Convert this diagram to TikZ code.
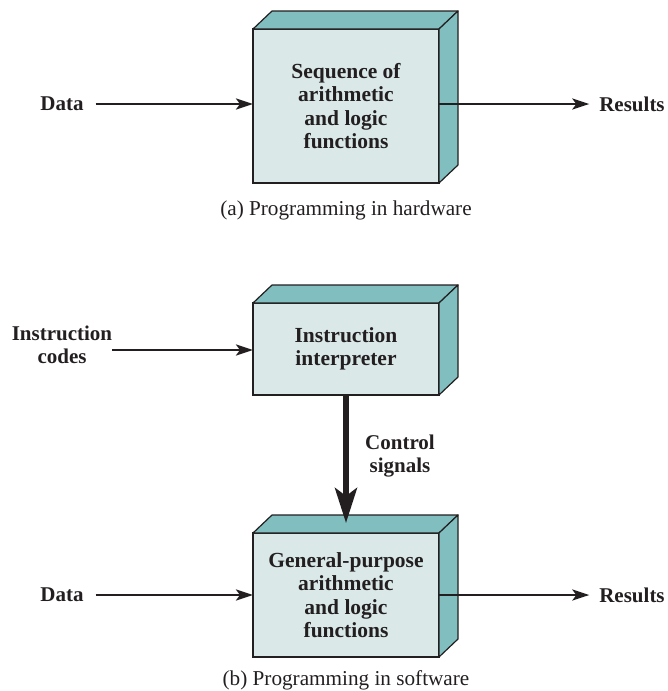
\documentclass[tikz,border=0pt]{standalone}
\usepackage{fontspec}
\setmainfont{Liberation Serif}
\usetikzlibrary{arrows.meta,calc}
\definecolor{frontc}{RGB}{218,232,232}
\definecolor{sidec}{RGB}{128,190,191}
\definecolor{inkc}{RGB}{35,31,32}
\begin{document}
\begin{tikzpicture}[x=1pt,y=-1pt,
  boxf/.style={draw=inkc, line width=1.2pt, fill=frontc, minimum width=186pt,
    inner sep=0pt, outer sep=0pt, font=\bfseries\fontsize{21.5}{23.5}\selectfont, align=center, text=inkc},
  face/.style={draw=inkc, line width=1.2pt, fill=sidec, line join=round},
  lbl/.style={inner sep=0pt, outer sep=0pt, font=\bfseries\fontsize{21}{23.5}\selectfont, align=center, text=inkc},
  captxt/.style={inner sep=0pt, font=\fontsize{21.2}{23.5}\selectfont, text=inkc},
  arr/.style={draw=inkc, line width=2.6pt, -{Stealth[length=17pt,width=11pt,inset=4pt]}},
  bigarr/.style={draw=inkc, line width=5.5pt, -{Stealth[length=35pt,width=22pt,inset=8pt]}}
]
\useasboundingbox (0,0) rectangle (667,691);
% boxes
\node[boxf, minimum height=154pt] (A) at (346,106) {Sequence of\\arithmetic\\and logic\\functions};
\node[boxf, minimum height=92pt] (B) at (346,349) {Instruction\\interpreter};
\node[boxf, minimum height=124pt] (C) at (346,595) {General-purpose\\arithmetic\\and logic\\functions};
\foreach \b in {A,B,C}{
  \filldraw[face] (\b.north west) -- ++(19,-18) -- ($(\b.north east)+(19,-18)$) -- (\b.north east) -- cycle;
  \filldraw[face] (\b.north east) -- ($(\b.north east)+(19,-18)$) -- ($(\b.south east)+(19,-18)$) -- (\b.south east) -- cycle;
}
% labels
\node[lbl] (d1) at (62,104) {Data};
\node[lbl] (r1) at (632,104) {Results};
\node[lbl] (ic) at (62,345) {Instruction\\codes};
\node[lbl] (cs) at (400,456) {Control\\signals};
\node[lbl] (d2) at (62,595) {Data};
\node[lbl] (r2) at (632,595) {Results};
\node[captxt] (capa) at (346,210) {(a) Programming in hardware};
\node[captxt] (capb) at (346,680) {(b) Programming in software};
% arrows
\draw[arr, shorten <=12pt] (d1.east) -- (A.west |- d1.east);
\draw[arr, shorten >=10pt] (A.east |- r1.west) -- (r1.west);
\draw[arr] (ic.east |- 0,350) -- (B.west |- 0,350);
\draw[arr, shorten <=12pt] (d2.east) -- (C.west |- d2.east);
\draw[arr, shorten >=10pt] (C.east) -- (r2.west |- C.east);
\coordinate (ctip) at ($(C.north)+(0,-10)$);
\draw[bigarr] (B.south) -- (ctip);
\end{tikzpicture}
\end{document}
